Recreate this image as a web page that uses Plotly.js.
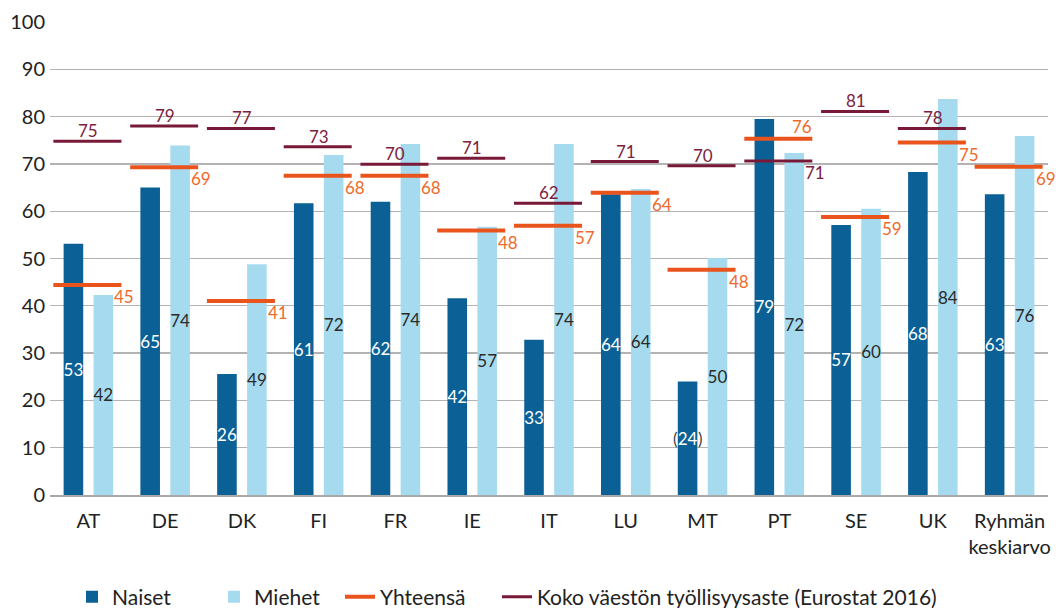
<!DOCTYPE html>
<html>
<head>
<meta charset="utf-8">
<script src="https://cdn.plot.ly/plotly-3.0.1.min.js"></script>
<style>html,body{margin:0;padding:0;background:#fff;}#chart{width:1056px;height:608px;}</style>
</head>
<body>
<div id="chart"></div>
<script>
// ---- data ----
const categories = ['AT','DE','DK','FI','FR','IE','IT','LU','MT','PT','SE','UK','Ryhmän<br>keskiarvo'];
const naiset       = [53.1, 65.0, 25.6, 61.7, 62.0, 41.6, 32.8, 63.6, 24.0, 79.5, 57.1, 68.3, 63.6];
const naisetLabels = ['53','65','26','61','62','42','33','64','(24)','79','57','68','63'];
const miehet       = [42.3, 73.9, 48.8, 71.9, 74.2, 56.7, 74.2, 64.7, 50.1, 72.3, 60.5, 83.7, 75.9];
const miehetLabels = ['42','74','49','72','74','57','74','64','50','72','60','84','76'];
const yhteensa       = [44.4, 69.3, 41.0, 67.5, 67.5, 55.9, 56.9, 63.9, 47.6, 75.3, 58.8, 74.5, 69.4];
const yhteensaLabels = ['45','69','41','68','68','48','57','64','48','76','59','75','69'];
const koko       = [74.8, 78.0, 77.5, 73.6, 69.9, 71.2, 61.7, 70.5, 69.6, 70.6, 81.1, 77.5, null];
const kokoLabels = ['75','79','77','73','70','71','62','71','70','71','81','78',''];
const yTicks = [0,10,20,30,40,50,60,70,80,90,100];
const flipLabelCats = ['PT'];

// ---- styles ----
const FONT = "Lato, 'Open Sans', sans-serif";
const C_NAISET = '#0B6196', C_MIEHET = '#A6DAEE', C_YHT = '#E9531C', C_KOKO = '#781A37';
const C_YHT_TXT = '#EE6A2C', C_KOKO_TXT = '#7A2240';
const L0 = -0.456, L1 = 0.43;

const idx = categories.map((_, i) => i);

function segs(vals) {
  const x = [], y = [];
  vals.forEach((v, i) => {
    if (v === null) return;
    x.push(i + L0, i + L1, null);
    y.push(v, v, null);
  });
  return {x, y};
}

const barText = naisetLabels.map(t => t.replace(/[()]/g, ''));

const traces = [
  {type:'bar', name:'Naiset', legend:'legend', x: idx, y: naiset, marker:{color:C_NAISET},
   text: barText, textposition:'inside', insidetextanchor:'middle', textangle:0,
   constraintext:'none', textfont:{family:FONT, size:17, color:'#ffffff'}, hoverinfo:'y'},
  {type:'bar', name:'Miehet', legend:'legend2', x: idx, y: miehet, marker:{color:C_MIEHET},
   text: miehetLabels, textposition:'inside', insidetextanchor:'middle', textangle:0,
   constraintext:'none', textfont:{family:FONT, size:17, color:'#2a2a2a'}, hoverinfo:'y'},
  Object.assign({type:'scatter', mode:'lines', name:'Yhteensä', legend:'legend3', line:{color:C_YHT, width:4}}, segs(yhteensa)),
  Object.assign({type:'scatter', mode:'lines', name:'Koko väestön työllisyysaste (Eurostat 2016)', legend:'legend4', line:{color:C_KOKO, width:3}}, segs(koko))
];

const annotations = [];
const base = {showarrow:false, borderpad:0, borderwidth:0};
categories.forEach((c, i) => {
  const flip = flipLabelCats.includes(c);
  if (yhteensa[i] !== null) {
    annotations.push(Object.assign({}, base, flip ?
      {x: i + L1, y: yhteensa[i], text: yhteensaLabels[i], xanchor:'right', yanchor:'bottom', xshift:0, yshift:2,
       font:{family:FONT, size:17, color:C_YHT_TXT}} :
      {x: i + L1, y: yhteensa[i], text: yhteensaLabels[i], xanchor:'left', yanchor:'top', xshift:-7, yshift:-1,
       font:{family:FONT, size:17, color:C_YHT_TXT}}));
  }
  if (koko[i] !== null) {
    annotations.push(Object.assign({}, base, flip ?
      {x: i + L1, y: koko[i], text: kokoLabels[i], xanchor:'left', yanchor:'top', xshift:-7, yshift:-1,
       font:{family:FONT, size:17, color:C_KOKO_TXT}} :
      {x: i, y: koko[i], text: kokoLabels[i], xanchor:'center', yanchor:'bottom', yshift:0,
       font:{family:FONT, size:17, color:C_KOKO_TXT}}));
  }
  if (/^\(.*\)$/.test(naisetLabels[i])) {
    const xc = i - 0.195;
    annotations.push(Object.assign({}, base, {x: xc, y: naiset[i] / 2, text:'(', xanchor:'right', xshift:-10,
      font:{family:FONT, size:17, color:'#444'}}));
    annotations.push(Object.assign({}, base, {x: xc, y: naiset[i] / 2, text:')', xanchor:'left', xshift:10,
      font:{family:FONT, size:17, color:'#444'}}));
  }
});

function legendAt(px) {
  return {orientation:'h', xref:'container', yref:'container', x: px / 1056, y: 1 - 597 / 608,
          xanchor:'left', yanchor:'middle', font:{family:FONT, size:21, color:'#222'}, bgcolor:'rgba(0,0,0,0)'};
}

const layout = {
  width:1056, height:608,
  margin:{l:50, r:8, t:22, b:113},
  paper_bgcolor:'#fff', plot_bgcolor:'#fff',
  font:{family:FONT, size:20, color:'#222'},
  barmode:'group', bargap:0.22, bargroupgap:0.346,
  xaxis:{range:[-0.5, categories.length - 0.5], tickmode:'array', tickvals: idx, ticktext: categories,
         showgrid:false, zeroline:false, showline:true, linecolor:'#aaaaaa', linewidth:2,
         ticks:'', ticklabelstandoff:7, tickfont:{family:FONT, size:20, color:'#222'}, fixedrange:true},
  yaxis:{range:[0,100], tickmode:'array', tickvals: yTicks, showgrid:true, gridcolor:'#b3b3b3', gridwidth:1.3,
         zeroline:false, showline:false, ticks:'', ticklabelstandoff:4, tickfont:{family:FONT, size:20, color:'#222'}, fixedrange:true},
  showlegend:true,
  legend: legendAt(72),
  legend2: legendAt(214),
  legend3: legendAt(340),
  legend4: legendAt(497),
  annotations: annotations
};

Plotly.newPlot('chart', traces, layout, {displayModeBar:false, staticPlot:true});
</script>
</body>
</html>
